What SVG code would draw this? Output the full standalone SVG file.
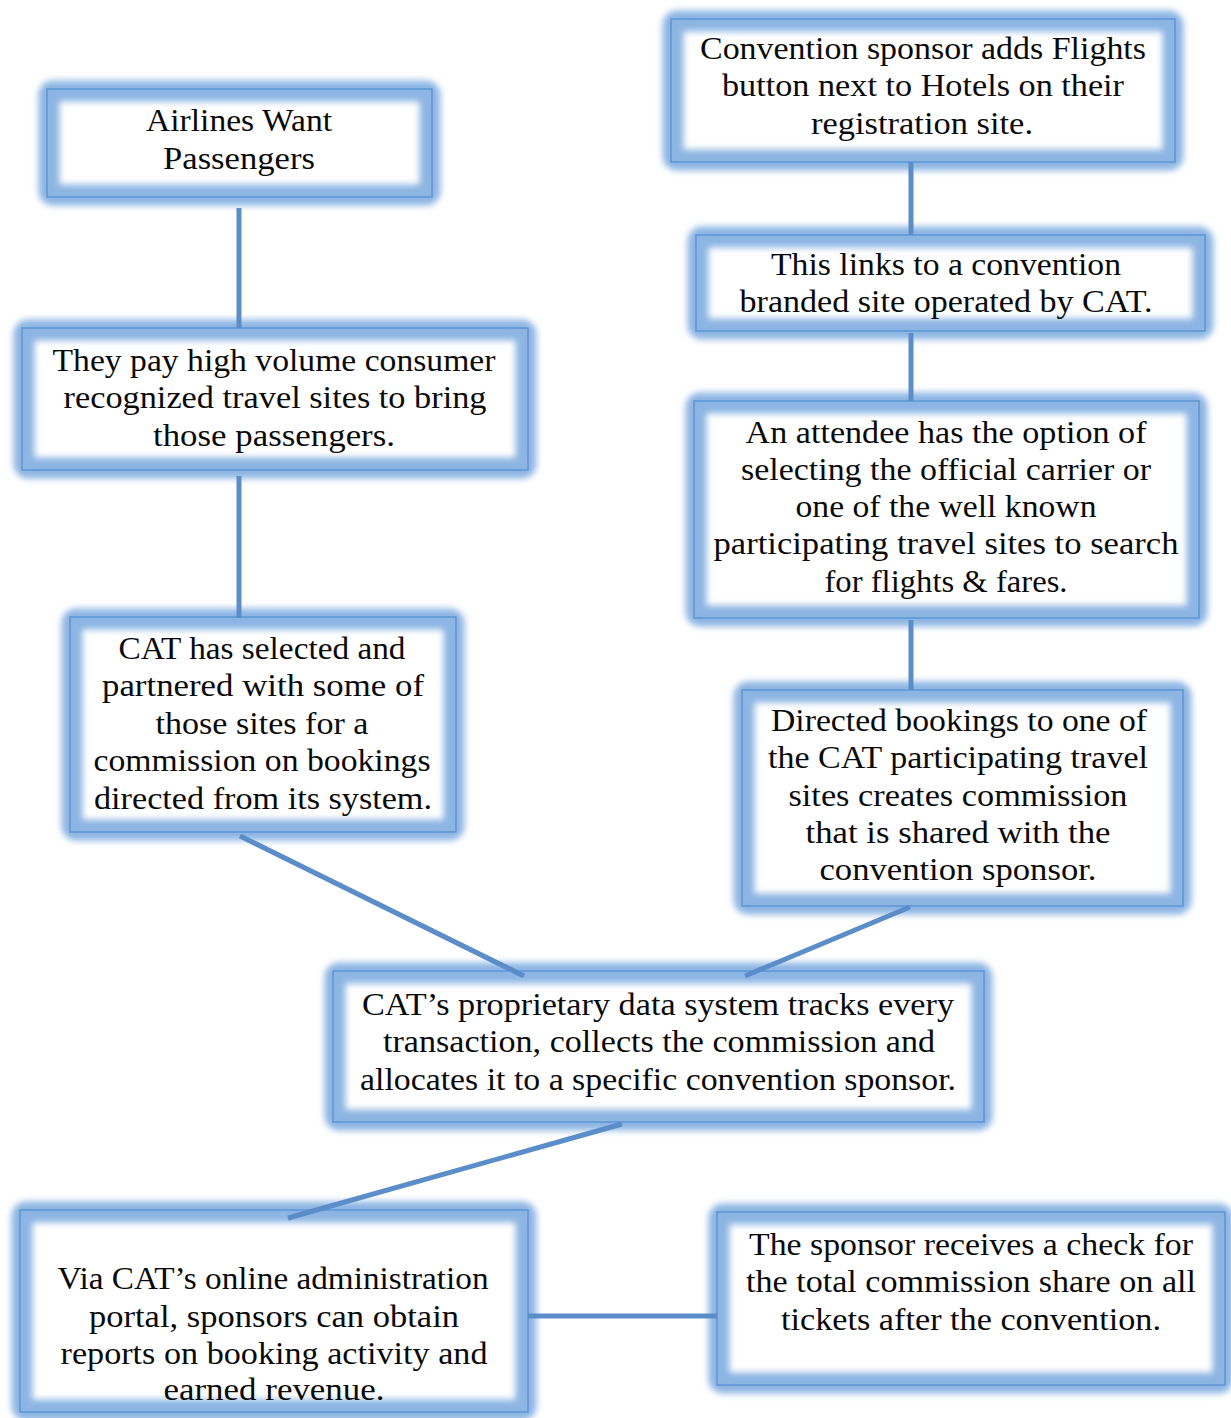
<svg xmlns="http://www.w3.org/2000/svg" width="1231" height="1418" viewBox="0 0 1231 1418">
<defs>
<filter id="blur" x="-10%" y="-20%" width="120%" height="140%"><feGaussianBlur stdDeviation="3"/></filter>
<style>
.glow{fill:none;stroke:#8db5e3;stroke-width:21;filter:url(#blur)}
.edge{fill:none;stroke:#5f98d8;stroke-width:1.6}
.t{font-family:"Liberation Serif","Times New Roman",serif;font-size:32px;fill:#0a0a0a;text-anchor:middle}
.c{stroke:#5b8ec9;stroke-width:5;fill:none}
</style>
</defs>
<rect width="1231" height="1418" fill="#fff"/>
<g id="nodes">
<g id="n1">
<rect class="glow" x="49" y="91" width="381" height="104" rx="4"/>
<rect class="edge" x="47" y="89" width="385" height="108"/>
<text class="t" x="239" y="131" textLength="186" lengthAdjust="spacingAndGlyphs">Airlines Want</text>
<text class="t" x="239" y="169" textLength="152" lengthAdjust="spacingAndGlyphs">Passengers</text>
</g>
<g id="n2">
<rect class="glow" x="24" y="330" width="502" height="138" rx="4"/>
<rect class="edge" x="22" y="328" width="506" height="142"/>
<text class="t" x="274" y="371" textLength="443" lengthAdjust="spacingAndGlyphs">They pay high volume consumer</text>
<text class="t" x="275" y="408" textLength="423" lengthAdjust="spacingAndGlyphs">recognized travel sites to bring</text>
<text class="t" x="274" y="446" textLength="242" lengthAdjust="spacingAndGlyphs">those passengers.</text>
</g>
<g id="n3">
<rect class="glow" x="72" y="619" width="382" height="211" rx="4"/>
<rect class="edge" x="70" y="617" width="386" height="215"/>
<text class="t" x="262" y="659" textLength="287" lengthAdjust="spacingAndGlyphs">CAT has selected and</text>
<text class="t" x="263" y="696" textLength="322" lengthAdjust="spacingAndGlyphs">partnered with some of</text>
<text class="t" x="262" y="734" textLength="213" lengthAdjust="spacingAndGlyphs">those sites for a</text>
<text class="t" x="262" y="771" textLength="337" lengthAdjust="spacingAndGlyphs">commission on bookings</text>
<text class="t" x="263" y="809" textLength="338" lengthAdjust="spacingAndGlyphs">directed from its system.</text>
</g>
<g id="n4">
<rect class="glow" x="673" y="21" width="500" height="139" rx="4"/>
<rect class="edge" x="671" y="19" width="504" height="143"/>
<text class="t" x="923" y="59" textLength="446" lengthAdjust="spacingAndGlyphs">Convention sponsor adds Flights</text>
<text class="t" x="923" y="96" textLength="402" lengthAdjust="spacingAndGlyphs">button next to Hotels on their</text>
<text class="t" x="922" y="134" textLength="222" lengthAdjust="spacingAndGlyphs">registration site.</text>
</g>
<g id="n5">
<rect class="glow" x="698" y="237" width="505" height="92" rx="4"/>
<rect class="edge" x="696" y="235" width="509" height="96"/>
<text class="t" x="946" y="275" textLength="350" lengthAdjust="spacingAndGlyphs">This links to a convention</text>
<text class="t" x="946" y="312" textLength="413" lengthAdjust="spacingAndGlyphs">branded site operated by CAT.</text>
</g>
<g id="n6">
<rect class="glow" x="696" y="403" width="501" height="213" rx="4"/>
<rect class="edge" x="694" y="401" width="505" height="217"/>
<text class="t" x="946" y="443" textLength="401" lengthAdjust="spacingAndGlyphs">An attendee has the option of</text>
<text class="t" x="946" y="480" textLength="410" lengthAdjust="spacingAndGlyphs">selecting the official carrier or</text>
<text class="t" x="946" y="517" textLength="301" lengthAdjust="spacingAndGlyphs">one of the well known</text>
<text class="t" x="946" y="554" textLength="465" lengthAdjust="spacingAndGlyphs">participating travel sites to search</text>
<text class="t" x="946" y="592" textLength="243" lengthAdjust="spacingAndGlyphs">for flights &amp; fares.</text>
</g>
<g id="n7">
<rect class="glow" x="744" y="692" width="437" height="212" rx="4"/>
<rect class="edge" x="742" y="690" width="441" height="216"/>
<text class="t" x="959" y="731" textLength="376" lengthAdjust="spacingAndGlyphs">Directed bookings to one of</text>
<text class="t" x="958" y="768" textLength="380" lengthAdjust="spacingAndGlyphs">the CAT participating travel</text>
<text class="t" x="958" y="806" textLength="339" lengthAdjust="spacingAndGlyphs">sites creates commission</text>
<text class="t" x="958" y="843" textLength="305" lengthAdjust="spacingAndGlyphs">that is shared with the</text>
<text class="t" x="958" y="880" textLength="277" lengthAdjust="spacingAndGlyphs">convention sponsor.</text>
</g>
<g id="n8">
<rect class="glow" x="335" y="973" width="647" height="147" rx="4"/>
<rect class="edge" x="333" y="971" width="651" height="151"/>
<text class="t" x="658" y="1015" textLength="592" lengthAdjust="spacingAndGlyphs">CAT’s proprietary data system tracks every</text>
<text class="t" x="659" y="1052" textLength="552" lengthAdjust="spacingAndGlyphs">transaction, collects the commission and</text>
<text class="t" x="658" y="1090" textLength="596" lengthAdjust="spacingAndGlyphs">allocates it to a specific convention sponsor.</text>
</g>
<g id="n9">
<rect class="glow" x="22" y="1212" width="504" height="198" rx="4"/>
<rect class="edge" x="20" y="1210" width="508" height="202"/>
<text class="t" x="273" y="1289" textLength="431" lengthAdjust="spacingAndGlyphs">Via CAT’s online administration</text>
<text class="t" x="274" y="1327" textLength="370" lengthAdjust="spacingAndGlyphs">portal, sponsors can obtain</text>
<text class="t" x="274" y="1364" textLength="427" lengthAdjust="spacingAndGlyphs">reports on booking activity and</text>
<text class="t" x="274" y="1400" textLength="221" lengthAdjust="spacingAndGlyphs">earned revenue.</text>
</g>
<g id="n10">
<rect class="glow" x="719" y="1214" width="504" height="169" rx="4"/>
<rect class="edge" x="717" y="1212" width="508" height="173"/>
<text class="t" x="971" y="1255" textLength="444" lengthAdjust="spacingAndGlyphs">The sponsor receives a check for</text>
<text class="t" x="971" y="1292" textLength="450" lengthAdjust="spacingAndGlyphs">the total commission share on all</text>
<text class="t" x="971" y="1330" textLength="380" lengthAdjust="spacingAndGlyphs">tickets after the convention.</text>
</g>
</g>
<g id="connectors">
<line class="c" x1="239" y1="208" x2="239" y2="328"/>
<line class="c" x1="239" y1="476" x2="239" y2="618"/>
<line class="c" x1="240" y1="836" x2="524" y2="976"/>
<line class="c" x1="911" y1="162" x2="911" y2="235"/>
<line class="c" x1="911" y1="333" x2="911" y2="401"/>
<line class="c" x1="911" y1="620" x2="911" y2="690"/>
<line class="c" x1="910" y1="907" x2="745" y2="976"/>
<line class="c" x1="622" y1="1124" x2="288" y2="1218"/>
<line class="c" x1="528" y1="1316" x2="717" y2="1316"/>
</g>
</svg>
